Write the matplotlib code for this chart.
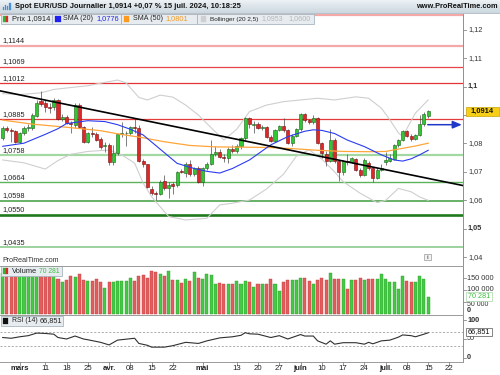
import numpy as np
import matplotlib
matplotlib.use('Agg')
import matplotlib.pyplot as plt
from matplotlib.patches import Rectangle
from matplotlib.lines import Line2D
from matplotlib.colors import LinearSegmentedColormap
from matplotlib.transforms import Affine2D, blended_transform_factory, offset_copy

W, H = 500, 375
FONT = ['Liberation Sans', 'DejaVu Sans']
plt.rcParams['font.family'] = FONT

# ---------------- data (daily EUR/USD, 26 Feb 2024 -> 15 Jul 2024) ----------------
day_index = np.arange(101)
opens = np.array([
    1.0818, 1.0853, 1.0847, 1.0843, 1.0804, 1.0836, 1.0853, 1.0855, 1.0898, 1.0950,
    1.0943, 1.0928, 1.0928, 1.0953, 1.0886, 1.0892, 1.0873, 1.0866, 1.0935, 1.0859,
    1.0806, 1.0838, 1.0834, 1.0815, 1.0790, 1.0793, 1.0736, 1.0768, 1.0834, 1.0836,
    1.0837, 1.0859, 1.0855, 1.0738, 1.0727, 1.0640, 1.0625, 1.0622, 1.0668, 1.0643,
    1.0656, 1.0654, 1.0703, 1.0697, 1.0727, 1.0692, 1.0715, 1.0665, 1.0713, 1.0727,
    1.0762, 1.0770, 1.0754, 1.0748, 1.0782, 1.0772, 1.0790, 1.0818, 1.0888, 1.0865,
    1.0870, 1.0856, 1.0858, 1.0824, 1.0810, 1.0847, 1.0861, 1.0847, 1.0801, 1.0828,
    1.0850, 1.0904, 1.0881, 1.0874, 1.0890, 1.0801, 1.0762, 1.0738, 1.0812, 1.0740,
    1.0700, 1.0738, 1.0735, 1.0746, 1.0707, 1.0690, 1.0731, 1.0713, 1.0678, 1.0707,
    1.0735, 1.0738, 1.0745, 1.0793, 1.0812, 1.0843, 1.0828, 1.0815, 1.0830, 1.0868,
    1.0895])
highs = np.array([
    1.0862, 1.0863, 1.0853, 1.0847, 1.0842, 1.0863, 1.0867, 1.0906, 1.0953, 1.0985,
    1.0952, 1.0941, 1.0959, 1.0957, 1.0902, 1.0900, 1.0879, 1.0941, 1.0942, 1.0863,
    1.0842, 1.0859, 1.0842, 1.0824, 1.0806, 1.0801, 1.0795, 1.0838, 1.0876, 1.0845,
    1.0862, 1.0889, 1.0864, 1.0745, 1.0729, 1.0650, 1.0633, 1.0672, 1.0689, 1.0666,
    1.0666, 1.0703, 1.0710, 1.0734, 1.0742, 1.0719, 1.0720, 1.0716, 1.0734, 1.0812,
    1.0790, 1.0780, 1.0762, 1.0786, 1.0795, 1.0798, 1.0822, 1.0892, 1.0894, 1.0878,
    1.0874, 1.0866, 1.0861, 1.0830, 1.0851, 1.0865, 1.0889, 1.0851, 1.0832, 1.0855,
    1.0908, 1.0907, 1.0887, 1.0900, 1.0894, 1.0805, 1.0772, 1.0851, 1.0818, 1.0743,
    1.0743, 1.0762, 1.0752, 1.0750, 1.0713, 1.0748, 1.0737, 1.0716, 1.0713, 1.0727,
    1.0771, 1.0762, 1.0798, 1.0816, 1.0846, 1.0847, 1.0833, 1.0833, 1.0899, 1.0910,
    1.0918])
lows = np.array([
    1.0812, 1.0842, 1.0806, 1.0800, 1.0801, 1.0830, 1.0844, 1.0847, 1.0894, 1.0930,
    1.0912, 1.0906, 1.0918, 1.0883, 1.0879, 1.0867, 1.0836, 1.0856, 1.0853, 1.0801,
    1.0801, 1.0824, 1.0809, 1.0781, 1.0771, 1.0724, 1.0723, 1.0760, 1.0822, 1.0790,
    1.0830, 1.0837, 1.0734, 1.0719, 1.0642, 1.0620, 1.0601, 1.0619, 1.0636, 1.0610,
    1.0624, 1.0648, 1.0695, 1.0683, 1.0687, 1.0687, 1.0662, 1.0650, 1.0705, 1.0724,
    1.0755, 1.0748, 1.0735, 1.0730, 1.0766, 1.0765, 1.0780, 1.0810, 1.0856, 1.0838,
    1.0850, 1.0849, 1.0818, 1.0804, 1.0806, 1.0843, 1.0842, 1.0797, 1.0790, 1.0824,
    1.0845, 1.0877, 1.0869, 1.0870, 1.0798, 1.0748, 1.0722, 1.0735, 1.0733, 1.0667,
    1.0690, 1.0724, 1.0731, 1.0703, 1.0683, 1.0687, 1.0707, 1.0665, 1.0675, 1.0703,
    1.0724, 1.0735, 1.0742, 1.0788, 1.0807, 1.0824, 1.0808, 1.0811, 1.0827, 1.0863,
    1.0888])
closes = np.array([
    1.0853, 1.0847, 1.0843, 1.0804, 1.0836, 1.0856, 1.0857, 1.0900, 1.0941, 1.0940,
    1.0928, 1.0926, 1.0953, 1.0885, 1.0892, 1.0873, 1.0868, 1.0935, 1.0859, 1.0806,
    1.0838, 1.0832, 1.0812, 1.0789, 1.0793, 1.0736, 1.0768, 1.0834, 1.0836, 1.0838,
    1.0859, 1.0855, 1.0738, 1.0727, 1.0648, 1.0625, 1.0622, 1.0666, 1.0642, 1.0655,
    1.0652, 1.0700, 1.0699, 1.0727, 1.0692, 1.0715, 1.0665, 1.0713, 1.0727, 1.0762,
    1.0770, 1.0753, 1.0748, 1.0782, 1.0772, 1.0790, 1.0818, 1.0888, 1.0867, 1.0870,
    1.0856, 1.0858, 1.0821, 1.0810, 1.0847, 1.0861, 1.0847, 1.0801, 1.0828, 1.0850,
    1.0904, 1.0881, 1.0874, 1.0890, 1.0801, 1.0765, 1.0738, 1.0812, 1.0740, 1.0700,
    1.0738, 1.0735, 1.0748, 1.0707, 1.0690, 1.0742, 1.0713, 1.0678, 1.0707, 1.0712,
    1.0741, 1.0750, 1.0793, 1.0812, 1.0843, 1.0828, 1.0815, 1.0830, 1.0868, 1.0905,
    1.0914])
volumes = np.array([
    170000, 176000, 168000, 172000, 165000, 178000, 170000, 182000, 186000, 183000,
    168000, 171000, 175000, 145000, 134000, 141000, 160000, 154000, 167000, 141000,
    138000, 138000, 145000, 135000, 111000, 134000, 134000, 140000, 140000, 140000,
    152000, 137000, 160000, 162000, 152000, 180000, 177000, 167000, 160000, 180000,
    141000, 141000, 131000, 148000, 137000, 174000, 152000, 145000, 167000, 162000,
    124000, 131000, 124000, 127000, 127000, 137000, 124000, 137000, 134000, 115000,
    124000, 124000, 127000, 148000, 124000, 95000, 134000, 141000, 144000, 141000,
    152000, 152000, 138000, 124000, 144000, 152000, 141000, 170000, 148000, 148000,
    148000, 103000, 141000, 141000, 152000, 141000, 145000, 145000, 148000, 165000,
    145000, 134000, 134000, 105000, 158000, 137000, 134000, 134000, 158000, 145000,
    70281])
assert len(opens) == len(highs) == len(lows) == len(closes) == len(volumes) == 101

sma20_idx = [0, 5, 10, 13, 15, 20, 24, 27, 30, 33, 37, 41, 45, 48, 51, 54, 58, 63, 67,
             71, 73, 75, 78, 81, 85, 89, 92, 94, 96, 98, 100]
sma20_val = [1.0790, 1.0801, 1.0832, 1.0852, 1.0870, 1.0880, 1.0877, 1.0866, 1.0850,
             1.0830, 1.0780, 1.0730, 1.0712, 1.0702, 1.0696, 1.0712, 1.0742, 1.0795,
             1.0824, 1.0843, 1.0848, 1.0846, 1.0835, 1.0812, 1.0789, 1.0760, 1.0742,
             1.0738, 1.0746, 1.0760, 1.0776]
sma50_idx = [0, 7, 15, 23, 27, 33, 38, 44, 50, 56, 62, 68, 74, 80, 86, 90, 94, 97, 100]
sma50_val = [1.0882, 1.0868, 1.0857, 1.0845, 1.0834, 1.0820, 1.0806, 1.0793, 1.0788,
             1.0787, 1.0786, 1.0782, 1.0776, 1.0772, 1.0771, 1.0772, 1.0783, 1.0791, 1.0801]
bbu_idx = [0, 4, 9, 12, 15, 20, 24, 27, 29, 32, 34, 37, 40, 43, 46, 49, 52, 55, 58, 62,
           66, 70, 74, 78, 83, 86, 89, 91, 93, 94, 97, 100]
bbu_val = [1.0975, 1.0972, 1.0978, 1.0990, 1.0995, 1.1003, 1.1015, 1.1023, 1.1013,
           1.0962, 1.0953, 1.0970, 1.0963, 1.0935, 1.0900, 1.0855, 1.0812, 1.0850,
           1.0912, 1.0935, 1.0947, 1.0953, 1.0959, 1.0953, 1.0964, 1.0959, 1.0924,
           1.0883, 1.0837, 1.0825, 1.0907, 1.0953]
bbl_idx = [0, 5, 10, 13, 16, 20, 25, 28, 31, 33, 35, 36, 39, 43, 48, 51, 54, 58, 62, 66,
           69, 72, 75, 78, 80, 84, 88, 90, 93, 96, 98, 100]
bbl_val = [1.0742, 1.0732, 1.0710, 1.0740, 1.0762, 1.0772, 1.0777, 1.0760, 1.0731,
           1.0661, 1.0613, 1.0595, 1.0543, 1.0531, 1.0537, 1.0584, 1.0590, 1.0601,
           1.0640, 1.0692, 1.0755, 1.0778, 1.0745, 1.0700, 1.0666, 1.0625, 1.0592,
           1.0600, 1.0642, 1.0630, 1.0612, 1.0600]
rsi_idx = [0, 2, 4, 6, 8, 10, 12, 13, 15, 17, 19, 20, 23, 25, 27, 31, 32, 34, 35, 38,
           40, 43, 46, 48, 51, 54, 56, 57, 58, 60, 63, 65, 67, 68, 70, 71, 73, 74, 76,
           77, 78, 80, 83, 85, 86, 87, 89, 91, 93, 94, 96, 97, 99, 100]
rsi_val = [54, 52, 56, 59, 66, 65, 63, 54, 50, 58, 50, 48, 41, 34, 47, 52, 38, 33, 28,
           28, 32, 41, 38, 45, 53, 56, 60, 67, 64, 63, 54, 59, 50, 54, 62, 58, 58, 45,
           36, 45, 36, 40, 40, 36, 41, 37, 45, 47, 55, 61, 59, 56, 63, 66.851]

levels = [1.1252, 1.1144, 1.1069, 1.1012, 1.0885, 1.0758, 1.0664, 1.0598, 1.0550, 1.0435]
level_labels = ['', '1,1144', '1,1069', '1,1012', '1,0885', '1,0758', '1,0664',
                '1,0598', '1,0550', '1,0435']
trend_idx = [-0.63, 108.2]
trend_val = [1.0985, 1.0652]
arrow_price = 1.0866
price_ticks = [1.12, 1.11, 1.10, 1.09, 1.08, 1.07, 1.06, 1.05, 1.04]
price_tick_labels = ['1,12', '1,11', '1,1', '', '1,08', '1,07', '1,06', '1,05', '1,04']
vol_ticks = [150000, 100000, 50000]
vol_tick_labels = ['150 000', '100 000', '50 000']
rsi_ticks = [100, 50, 0]
x_tick_idx = [4, 10, 15, 20, 25, 30, 35, 40, 47, 55, 60, 65, 70, 75, 80, 85, 90, 95, 100, 105]
x_tick_labels = ['mars', '11', '18', '25', 'avr.', '08', '15', '22', 'mai', '13', '20',
                 '27', 'juin', '10', '17', '24', 'juil.', '08', '15', '22']
month_labels = {'mars', 'avr.', 'mai', 'juin', 'juil.'}

# ---------------- layout ----------------
fig = plt.figure(figsize=(W / 100, H / 100), dpi=100)
fig.patch.set_facecolor('white')
PIX = Affine2D().scale(1.0 / W, -1.0 / H).translate(0, 1) + fig.transFigure
renderer = fig.canvas.get_renderer()

XMIN, XMAX = -0.635, 108.18
PLOT_R = 463.0
MAIN_T, MAIN_B = 13.5, 265.7
VOL_B = 315.0
RSI_B = 362.0


def add_ax(x0, y0, x1, y1):
    a = fig.add_axes([x0 / W, 1 - y1 / H, (x1 - x0) / W, (y1 - y0) / H])
    a.set_axis_off()
    a.set_xlim(XMIN, XMAX)
    return a


ax = add_ax(0, MAIN_T, PLOT_R, MAIN_B)
ax.set_ylim(1.03702, 1.12570)
axv = add_ax(0, MAIN_B, PLOT_R, VOL_B)
axv.set_ylim(-2700, 201250)
axr = add_ax(0, VOL_B, PLOT_R, RSI_B)
axr.set_ylim(-12.16, 114.86)


def box(x0, y0, x1, y1, fc, ec, lw=0.6, z=5):
    fig.add_artist(Rectangle((x0, y0), x1 - x0, y1 - y0, transform=PIX, facecolor=fc,
                             edgecolor=ec, linewidth=lw, zorder=z))


def txt(x, y, s, size=5.3, color='#222222', weight='normal', ha='left', va='center',
        width=None, z=7, transform=None):
    t = fig.text(x, y, s, transform=transform if transform is not None else PIX,
                 fontsize=size, color=color, fontweight=weight, ha=ha, va=va, zorder=z)
    if width:
        w = t.get_window_extent(renderer).width
        t.set_fontsize(size * width / w)
    return t


def pline(xs, ys, color, lw=0.7, z=6, transform=None):
    fig.add_artist(Line2D(xs, ys, transform=transform if transform is not None else PIX,
                          color=color, linewidth=lw, zorder=z))


# ---------------- title bar ----------------
tb = fig.add_axes([0, 1 - 13 / H, 1, 13 / H])
tb.set_axis_off()
grad = np.linspace(0, 1, 50).reshape(-1, 1)
tb.imshow(grad, aspect='auto', extent=[0, 1, 0, 1],
          cmap=LinearSegmentedColormap.from_list('tb', ['#edf2f5', '#cbd7df']))
pline([0, 500], [13, 13], '#aab7c0', 0.6)
for k, hgt in enumerate([3, 5, 4, 7]):
    box(2.5 + k * 2.2, 10 - hgt, 4.0 + k * 2.2, 10, '#4a8fd8', '#4a8fd8', 0.2)
txt(15, 6.6, 'Spot EUR/USD Journalier 1,0914 +0,07 % 15 juil. 2024, 10:18:25',
    size=5.5, weight='bold', width=225, color='#111111')
txt(498, 6.6, 'www.ProRealTime.com', size=5.5, weight='bold', ha='right', width=81,
    color='#111111')

# ---------------- main price panel ----------------
lvl_colors = ['#f5a8a8', '#f5a8a8', '#e64646', '#e23434', '#e53b3b', '#a3d8a3', '#5cb35c',
              '#3e9c3e', '#1f7a1f', '#82c682']
lvl_widths = [1.6, 1.6, 0.9, 0.9, 0.9, 1.6, 1.0, 1.1, 1.9, 1.1]
lab_tr = offset_copy(blended_transform_factory(PIX, ax.transData), fig=fig, y=5, units='dots')
for lv, lab, c, lw in zip(levels, level_labels, lvl_colors, lvl_widths):
    ax.axhline(lv, color=c, linewidth=lw, zorder=1)
    if lab:
        fig.text(2, lv, lab, transform=lab_tr, fontsize=5.3, color='#222222',
                 ha='left', va='center', zorder=7)

ax.plot(bbu_idx, bbu_val, color='#cfcfcf', linewidth=0.8, zorder=2)
ax.plot(bbl_idx, bbl_val, color='#cfcfcf', linewidth=0.8, zorder=2)

up = closes >= opens
body_lo = np.minimum(opens, closes)
body_h = np.maximum(np.abs(closes - opens), 0.00012)
ax.vlines(day_index, lows, highs, colors='#4a4a4a', linewidth=0.5, zorder=4)
ax.bar(day_index, body_h, bottom=body_lo, width=0.72,
       color=['#33c633' if u else '#e02626' for u in up],
       edgecolor=['#1d5e1d' if u else '#701010' for u in up], linewidth=0.4, zorder=5)

ax.plot(sma50_idx, sma50_val, color='#ffa53a', linewidth=0.9, zorder=6)
ax.plot(sma20_idx, sma20_val, color='#2a3cf0', linewidth=0.8, zorder=6)
ax.plot(trend_idx, trend_val, color='#000000', linewidth=1.2, zorder=7)

ax.annotate('', xy=(107.9, arrow_price), xytext=(99.9, arrow_price),
            arrowprops=dict(arrowstyle='-|>,head_length=0.9,head_width=0.38',
                            color='#2038c8', lw=1.1, mutation_scale=6,
                            shrinkA=0, shrinkB=0), zorder=8)

txt(2, 261, 'ProRealTime.com', size=5.3, color='#333333', width=57)
box(424.3, 254.3, 431.3, 260.3, '#f2f2f2', '#9a9a9a', 0.5)
txt(427.8, 257.4, 'i', size=4.5, color='#666666', ha='center', weight='bold')

# legend boxes
LB_T, LB_B, LY = 13.5, 24.3, 19.0
BFC, BEC = '#e7ecf0', '#a9b5be'
box(0.5, LB_T, 52.3, LB_B, BFC, BEC)
box(2.8, 15.8, 5.6, 22.3, '#2fb52f', '#2fb52f', 0.2, z=6)
box(5.6, 15.8, 8.4, 22.3, '#d92a2a', '#d92a2a', 0.2, z=6)
txt(11.7, LY, 'Prix 1,0914', width=38.3)
box(52.3, LB_T, 120.7, LB_B, BFC, BEC)
box(54.8, 15.8, 60.6, 22.3, '#1f1ff0', '#1f1ff0', 0.2, z=6)
txt(63.3, LY, 'SMA (20)', width=30)
txt(96.7, LY, '1,0776', width=22.6, color='#2424e8')
box(120.7, LB_T, 196.7, LB_B, BFC, BEC)
box(123.5, 15.8, 129.3, 22.3, '#ff9a1f', '#ff9a1f', 0.2, z=6)
txt(132.7, LY, 'SMA (50)', width=30)
txt(165.7, LY, '1,0801', width=22.6, color='#f39a22')
box(196.7, LB_T, 314, LB_B, BFC, BEC)
box(200.5, 15.8, 206.3, 22.3, '#cfcfcf', '#cfcfcf', 0.2, z=6)
txt(210, LY, 'Bollinger (20 2,5)', width=48.3)
txt(261.7, LY, '1,0953', width=21.6, color='#b5b5b5')
txt(288.3, LY, '1,0600', width=22.4, color='#b5b5b5')

# ---------------- volume panel ----------------
axv.bar(day_index, volumes, width=0.72,
        color=['#45c845' if u else '#e25e5e' for u in up],
        edgecolor=['#2c9a2c' if u else '#c23a3a' for u in up], linewidth=0.3)
box(0.5, 266.3, 61.7, 276.3, BFC, BEC)
box(3.3, 268.4, 5.8, 274.3, '#2fb52f', '#2fb52f', 0.2, z=6)
box(5.8, 268.4, 8.3, 274.3, '#d92a2a', '#d92a2a', 0.2, z=6)
txt(11.7, 271.3, 'Volume', width=25)
txt(39.3, 271.3, '70 281', width=20.7, color='#3cbf3c')

# ---------------- RSI panel ----------------
axr.axhline(70, color='#a0a0a0', linewidth=0.6, linestyle=(0, (2.5, 2)))
axr.axhline(30, color='#a0a0a0', linewidth=0.6, linestyle=(0, (2.5, 2)))
axr.plot(rsi_idx, rsi_val, color='#303030', linewidth=0.8)
box(0.5, 315.6, 63, 325.7, BFC, BEC)
box(3.3, 317.7, 8.3, 323.6, '#111111', '#111111', 0.2, z=6)
txt(11.7, 320.7, 'RSI (14)', width=25.6)
txt(40, 320.7, '66,851', width=22.7)

# ---------------- frame lines ----------------
pline([PLOT_R, PLOT_R], [MAIN_T, RSI_B], '#8f8f8f', 0.7)
pline([0, PLOT_R], [MAIN_B, MAIN_B], '#9a9a9a', 0.7)
pline([0, PLOT_R], [VOL_B, VOL_B], '#9a9a9a', 0.7)
pline([0, PLOT_R], [RSI_B + 0.3, RSI_B + 0.3], '#9a9a9a', 0.7)

# ---------------- right axes labels ----------------
tr_main = blended_transform_factory(PIX, ax.transData)
for v, lab in zip(price_ticks, price_tick_labels):
    pline([PLOT_R, PLOT_R + 3], [v, v], '#888888', 0.6, transform=tr_main)
    if lab:
        txt(468, v, lab, size=5.3, color='#333333', transform=tr_main,
            weight='bold' if lab in ('1,1', '1,05') else 'normal')
box(465.5, 106.5, 498.5, 116.3, '#f6cf16', '#c9a500', 0.5, z=8)
txt(482, 111.3, '1,0914', size=5.4, weight='bold', ha='center', color='#111111', z=9)

tr_vol = blended_transform_factory(PIX, axv.transData)
for v, lab in zip(vol_ticks, vol_tick_labels):
    pline([PLOT_R, PLOT_R + 3], [v, v], '#888888', 0.6, transform=tr_vol)
for y, lab in zip([278.0, 289.8], vol_tick_labels[:2]):
    txt(467, y, lab, size=5.3, color='#333333')
txt(467, 304.6, vol_tick_labels[2], size=5.0, color='#333333')
txt(467, 310.2, '0', size=5.3, color='#333333', weight='bold')
box(466, 292.0, 491.7, 300.6, 'white', '#a9d6a9', 0.5, z=8)
txt(478.8, 296.3, '70 281', size=5.2, ha='center', color='#3cbf3c', z=9)

tr_rsi = blended_transform_factory(PIX, axr.transData)
for v in rsi_ticks:
    pline([PLOT_R, PLOT_R + 3], [v, v], '#888888', 0.6, transform=tr_rsi)
    txt(467, v, str(v), size=5.3, color='#333333', transform=tr_rsi,
        weight='bold' if v in (100, 0) else 'normal')
box(466, 327.6, 492.3, 335.8, 'white', '#555555', 0.5, z=8)
txt(479.2, 331.7, '66,851', size=5.2, ha='center', color='#111111', z=9)

# ---------------- x axis ----------------
tr_x = blended_transform_factory(axr.transData, PIX)
for i, lab in zip(x_tick_idx, x_tick_labels):
    pline([i, i], [RSI_B, RSI_B + 3], '#888888', 0.6, transform=tr_x)
    txt(i, 368.5, lab, size=5.6, ha='center', color='#222222', transform=tr_x,
        weight='bold' if lab in month_labels else 'normal')

fig.savefig('out.png', dpi=100)
